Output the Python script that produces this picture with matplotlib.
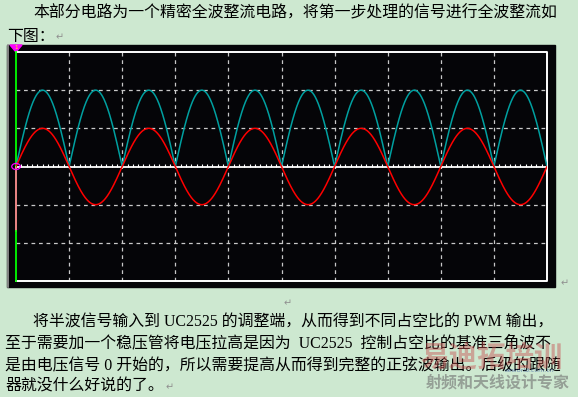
import numpy as np
import matplotlib
matplotlib.use("Agg")
import matplotlib.pyplot as plt
from matplotlib.patches import Rectangle, Polygon, Circle

W, H = 578, 397

# page text
top_lines = ["本部分电路为一个精密全波整流电路，将第一步处理的信号进行全波整流如",
             "下图："]
bottom_lines = ["将半波信号输入到 UC2525 的调整端，从而得到不同占空比的 PWM 输出，",
                "至于需要加一个稳压管将电压拉高是因为  UC2525  控制占空比的基准三角波不",
                "是由电压信号 0 开始的，所以需要提高从而得到完整的正弦波输出。后级的跟随",
                "器就没什么好说的了。"]
watermark_big = "易迪拓培训"
watermark_small = "射频和天线设计专家"

# scope settings (in divisions)
x_divs = 10
y_divs = 3            # each side of zero
sine_amp = 1.0        # red trace
rect_amp = 2.0        # teal trace (full-wave rectified)
half_period = 1.0

fam = ["Liberation Serif", "Noto Sans CJK SC", "DejaVu Sans"]
fs = 11.45

fig = plt.figure(figsize=(W / 100, H / 100), dpi=100)
bg = fig.add_axes([0, 0, 1, 1])
bg.set_xlim(0, W)
bg.set_ylim(H, 0)
bg.set_axis_off()
bg.add_patch(Rectangle((0, 0), W, H, color="#cde8d0", zorder=0))

# black scope panel
bg.add_patch(Rectangle((7, 45), 548, 242, color="#050508", zorder=1))
bg.plot([7.5, 7.5], [45, 287], color="#9a9a9a", lw=1.2, zorder=2)

# text above
bg.text(33, 13.6, top_lines[0], family=fam, fontsize=fs, va="center", zorder=3)
bg.text(7, 37, top_lines[1], family=fam, fontsize=fs, va="center", zorder=3)
bg.text(56, 38, "↵", family=fam, fontsize=7, color="#909090", va="center", zorder=3)

# text below
ys = [322, 343.5, 365, 387]
xs = [33, 5, 5, 5]
for x, y, s in zip(xs, ys, bottom_lines):
    bg.text(x, y, s, family=fam, fontsize=fs, va="center", zorder=3)
bg.text(166, 388, "↵", family=fam, fontsize=7, color="#909090", va="center", zorder=3)
bg.text(561, 284, "↵", family=fam, fontsize=7, color="#909090", va="center", zorder=3)
bg.text(284, 304, "↵", family=fam, fontsize=7, color="#909090", va="center", zorder=3)

# watermark
bg.text(420, 358, watermark_big, family=fam, fontsize=20.5, weight="bold",
        color="#c85050", alpha=0.45, va="center", zorder=4)
bg.text(426, 383, watermark_small, family=fam, fontsize=11.5, weight="bold",
        color="#707070", alpha=0.6, va="center", zorder=4)
bg.text(505, 371, "eeworld.com.cn", family=["DejaVu Sans"], fontsize=4.5,
        style="italic", color="#4060a0", alpha=0.7, va="center", zorder=4)

# trigger marker at top left
bg.add_patch(Polygon([[10, 45], [22, 45], [16, 52]], color="#ff00ff", zorder=6))
bg.text(16, 47.5, "1", family=["DejaVu Sans"], fontsize=4, color="#ffff00",
        ha="center", va="center", zorder=7)

# scope graticule
ax = fig.add_axes([16 / W, (H - 281) / H, 531 / W, 229 / H])
ax.set_xlim(0, x_divs)
ax.set_ylim(-y_divs, y_divs)
ax.set_axis_off()
ax.patch.set_visible(False)

grid_c = "#c8c8c8"
for i in range(1, x_divs):
    ax.plot([i, i], [-y_divs, y_divs], color=grid_c, lw=0.9, ls=(0, (3, 3)))
for j in range(-y_divs + 1, y_divs):
    if j != 0:
        ax.plot([0, x_divs], [j, j], color=grid_c, lw=0.9, ls=(0, (3, 3)))
ax.plot([0, x_divs], [0, 0], color="white", lw=1.3)
minor = np.arange(0.1, x_divs, 0.1)
ax.vlines(minor, 0, 0.06, color="white", lw=0.8)

# border
ax.plot([0, x_divs, x_divs, 0], [y_divs, y_divs, -y_divs, -y_divs],
        color="white", lw=1.4, clip_on=False)
ax.plot([0, 0], [y_divs, 0], color="#00ff00", lw=1.3, clip_on=False)
ax.plot([0, 0], [0, -1.68], color="#ff9090", lw=1.3, clip_on=False)
ax.plot([0, 0], [-1.68, -y_divs], color="#00ff00", lw=1.3, clip_on=False)

# traces
t = np.linspace(0, x_divs, 3000)
red = sine_amp * np.sin(np.pi * t / half_period)
teal = rect_amp * np.abs(np.sin(np.pi * t / half_period))
ax.plot(t, teal, color="#00a0a0", lw=1.1, zorder=5)
ax.plot(t, red, color="#ff0000", lw=1.1, zorder=6)

ax.add_patch(Circle((0, 0), 0.08, transform=ax.transData, fill=False,
                    edgecolor="#ff00ff", lw=0.9, clip_on=False, zorder=7))

fig.savefig("out.png", dpi=100)
